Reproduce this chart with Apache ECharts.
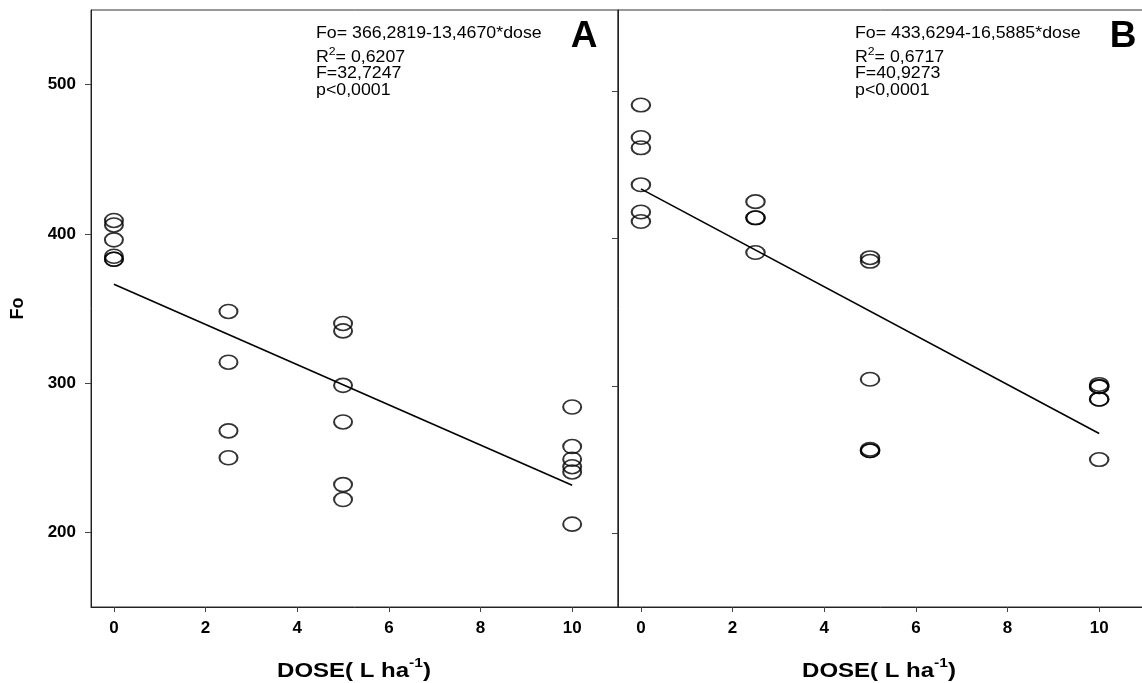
<!DOCTYPE html>
<html>
<head>
<meta charset="utf-8">
<script src="https://cdn.jsdelivr.net/npm/echarts@6/dist/echarts.min.js"></script>
<style>
html,body{margin:0;padding:0;background:#fff;}
#chart{width:1142px;height:683px;}
</style>
</head>
<body>
<div id="chart"></div>
<script>
// ---- data ----
const xTicks = [0, 2, 4, 6, 8, 10];
const yTicks = [200, 300, 400, 500];

// Panel A
const doseA = [0, 0, 0, 0, 0, 0, 2.5, 2.5, 2.5, 2.5, 5, 5, 5, 5, 5, 5, 10, 10, 10, 10, 10, 10];
const foA   = [409, 406, 396, 385, 383, 383, 348, 314, 268, 250, 340, 335, 298.5, 274, 232, 222, 284, 257.5, 249, 244, 240.5, 205.5];
const fitDoseA = [0, 10];
const fitFoA   = [366.28, 231.61];
const statsA = ['Fo= 366,2819-13,4670*dose', '= 0,6207', 'F=32,7247', 'p<0,0001'];

// Panel B
const doseB = [0, 0, 0, 0, 0, 0, 2.5, 2.5, 2.5, 2.5, 5, 5, 5, 5, 5, 5, 10, 10, 10, 10, 10, 10];
const foB   = [490.5, 468.5, 461.5, 436.5, 418, 411.5, 425, 414, 414, 390.5, 387, 384.5, 304.5, 257, 256, 256, 301, 299.5, 299.5, 291, 291, 250];
const fitDoseB = [0, 10];
const fitFoB   = [433.63, 267.75];
const statsB = ['Fo= 433,6294-16,5885*dose', '= 0,6717', 'F=40,9273', 'p<0,0001'];

const panelLetters = ['A', 'B'];
const xName = ['DOSE( L ha', '-1', ')'];
const yName = 'Fo';

// ---- chart ----
const FONT = '"Liberation Sans", Arial, Helvetica, sans-serif';
const ellipse = 'path://M0,50 A50,50 0 1,1 100,50 A50,50 0 1,1 0,50 Z';
const pairs = (xs, ys) => xs.map((x, i) => [x, ys[i]]);

function xAxisDef(gi) {
  return {
    type: 'value', gridIndex: gi, min: -0.5, max: 11,
    splitLine: {show: false},
    axisLine: {show: true, onZero: false, lineStyle: {color: '#222', width: 1}},
    axisTick: {show: true, inside: false, length: 5, customValues: xTicks, lineStyle: {color: '#444', width: 1}},
    axisLabel: {show: true, customValues: xTicks, margin: 13, fontSize: 17, fontWeight: 'bold', fontFamily: FONT, color: '#000'}
  };
}
function yAxisDef(gi, max, labels) {
  const a = {
    type: 'value', gridIndex: gi, min: 150, max: max,
    splitLine: {show: false},
    axisLine: {show: true, onZero: false, lineStyle: {color: '#222', width: 1}},
    axisTick: {show: true, inside: false, length: 6, customValues: yTicks, lineStyle: {color: '#444', width: 1}},
    axisLabel: {show: labels, customValues: yTicks, margin: 15, fontSize: 17, fontWeight: 'bold', fontFamily: FONT, color: '#000'}
  };
  if (labels) {
    a.name = yName;
    a.nameLocation = 'middle';
    a.nameRotate = 90;
    a.nameGap = 64;
    a.nameTextStyle = {fontSize: 18, fontWeight: 'bold', fontFamily: FONT, color: '#000'};
  }
  return a;
}

function statTexts(x0, stats) {
  const base = {fill: '#000', fontFamily: FONT, fontSize: 16, align: 'left', verticalAlign: 'middle'};
  return [
    {type: 'text', x: x0, y: 34, scaleX: 1.11, style: Object.assign({}, base, {text: stats[0]})},
    {type: 'text', x: x0, y: 56, scaleX: 1.11, style: Object.assign({}, base, {
      text: '{n|R}{s|2}{n|' + stats[1] + '}',
      rich: {
        n: {fontSize: 16, fontFamily: FONT, fill: '#000', verticalAlign: 'bottom', lineHeight: 20},
        s: {fontSize: 11, fontFamily: FONT, fill: '#000', verticalAlign: 'top', lineHeight: 20}
      }
    })},
    {type: 'text', x: x0, y: 74, scaleX: 1.11, style: Object.assign({}, base, {text: stats[2]})},
    {type: 'text', x: x0, y: 91, scaleX: 1.11, style: Object.assign({}, base, {text: stats[3]})}
  ];
}
function xNameText(cx) {
  return {type: 'text', x: cx, y: 669, scaleX: 1.2, style: {
    text: '{n|' + xName[0] + '}{s|' + xName[1] + '}{n|' + xName[2] + '}',
    align: 'center', verticalAlign: 'middle', fill: '#000',
    rich: {
      n: {fontSize: 20, fontWeight: 'bold', fontFamily: FONT, fill: '#000', verticalAlign: 'bottom', lineHeight: 24},
      s: {fontSize: 13, fontWeight: 'bold', fontFamily: FONT, fill: '#000', verticalAlign: 'top', lineHeight: 24}
    }
  }};
}

const scatterStyle = {color: 'rgba(255,255,255,0)', borderColor: '#000', borderWidth: 1.8};

const option = {
  animation: false,
  backgroundColor: '#fff',
  grid: [
    {left: 91, top: 10, width: 527, height: 597, outerBoundsMode: 'none', containLabel: false, show: true, borderColor: '#333', borderWidth: 1, backgroundColor: 'transparent'},
    {left: 618, top: 10, width: 527, height: 597, outerBoundsMode: 'none', containLabel: false, show: true, borderColor: '#333', borderWidth: 1, backgroundColor: 'transparent'}
  ],
  xAxis: [xAxisDef(0), xAxisDef(1)],
  yAxis: [yAxisDef(0, 550, true), yAxisDef(1, 555, false)],
  series: [
    {type: 'scatter', xAxisIndex: 0, yAxisIndex: 0, data: pairs(doseA, foA), symbol: ellipse, symbolSize: [18, 14], symbolKeepAspect: false, itemStyle: scatterStyle, silent: true},
    {type: 'line', xAxisIndex: 0, yAxisIndex: 0, data: pairs(fitDoseA, fitFoA), symbol: 'none', lineStyle: {color: '#000', width: 1.6}, silent: true},
    {type: 'scatter', xAxisIndex: 1, yAxisIndex: 1, data: pairs(doseB, foB), symbol: ellipse, symbolSize: [18.5, 13.5], symbolKeepAspect: false, itemStyle: scatterStyle, silent: true},
    {type: 'line', xAxisIndex: 1, yAxisIndex: 1, data: pairs(fitDoseB, fitFoB), symbol: 'none', lineStyle: {color: '#000', width: 1.6}, silent: true}
  ],
  graphic: [].concat(
    statTexts(316, statsA),
    statTexts(855, statsB),
    [
      {type: 'text', x: 584, y: 37, style: {text: panelLetters[0], fontSize: 37, fontWeight: 'bold', fontFamily: FONT, fill: '#000', align: 'center', verticalAlign: 'middle'}},
      {type: 'text', x: 1123, y: 37, style: {text: panelLetters[1], fontSize: 37, fontWeight: 'bold', fontFamily: FONT, fill: '#000', align: 'center', verticalAlign: 'middle'}},
      xNameText(354),
      xNameText(879)
    ]
  )
};

const chart = echarts.init(document.getElementById('chart'), null, {renderer: 'canvas'});
chart.setOption(option);
</script>
</body>
</html>
